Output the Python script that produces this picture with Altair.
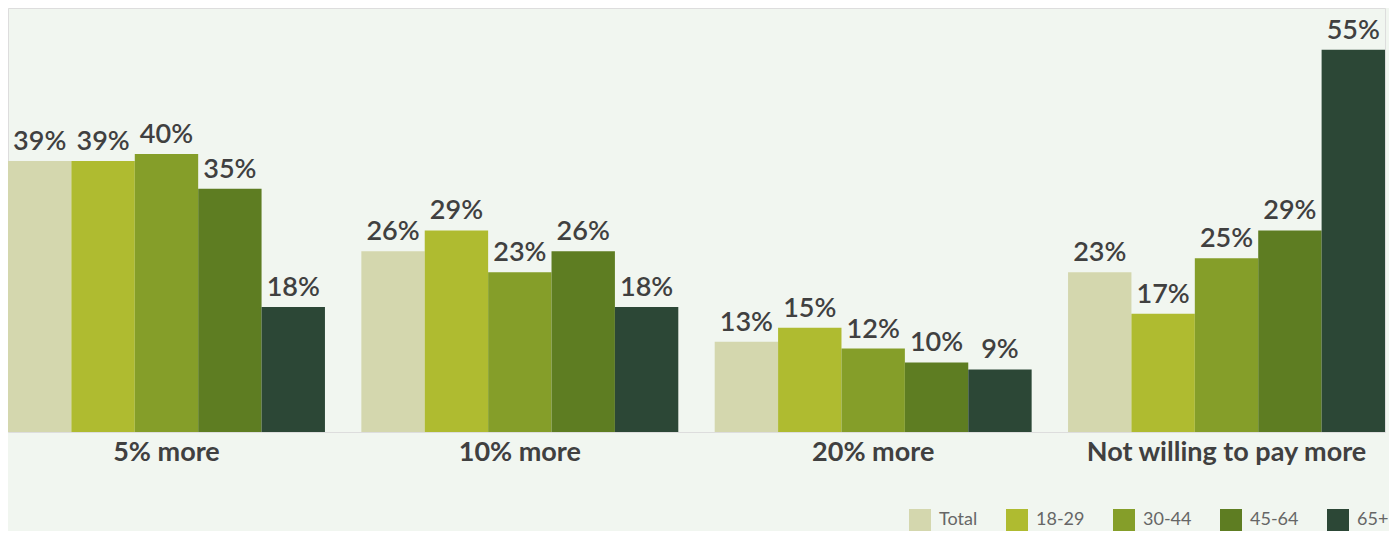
import altair as alt
import pandas as pd

categories = ["5% more", "10% more", "20% more", "Not willing to pay more"]
ages = ["Total", "18-29", "30-44", "45-64", "65+"]
values = {
    "Total": [39, 26, 13, 23],
    "18-29": [39, 29, 15, 17],
    "30-44": [40, 23, 12, 25],
    "45-64": [35, 26, 10, 29],
    "65+":   [18, 18, 9, 55],
}
colors = ["#d4d7ae", "#afbb30", "#859e29", "#5e7d22", "#2c4736"]

rows = []
for a in ages:
    for c, v in zip(categories, values[a]):
        rows.append({"category": c, "age": a, "value": v, "label": f"{v}%"})
df = pd.DataFrame(rows)

FONT = "Lato"

x = alt.X("category:N", sort=categories, title=None,
          scale=alt.Scale(paddingInner=0.103, paddingOuter=0),
          axis=alt.Axis(labelAngle=0, ticks=False, domain=False, labelFont=FONT,
                        labelFontSize=27, labelFontWeight="bold", labelColor="#404040",
                        labelPadding=7, labelLimit=0))
xo = alt.XOffset("age:N", sort=ages, scale=alt.Scale(paddingInner=0, paddingOuter=0))
y = alt.Y("value:Q", scale=alt.Scale(domain=[0, 61]), axis=None)

base = alt.Chart(df)
bars = base.mark_bar().encode(
    x=x, xOffset=xo, y=y,
    color=alt.Color("age:N", sort=ages,
                    scale=alt.Scale(domain=ages, range=colors),
                    legend=alt.Legend(title=None, orient="none", direction="horizontal",
                                      legendX=901, legendY=501, symbolType="square",
                                      symbolSize=484, symbolStrokeWidth=0,
                                      labelFont=FONT, labelFontSize=18, labelColor="#666666",
                                      labelOffset=8, columnPadding=28)),
)
text = base.mark_text(baseline="bottom", dy=-5, font=FONT, fontSize=27,
                      fontWeight=600, color="#404040").encode(
    x=x, xOffset=xo, y=y, text="label:N")

chart = (bars + text).properties(width=1377, height=424, padding=0).configure_view(
    stroke=None).configure(background="#f1f6f0")

chart.save("out.html", embed_options={"renderer": "svg", "actions": False})
